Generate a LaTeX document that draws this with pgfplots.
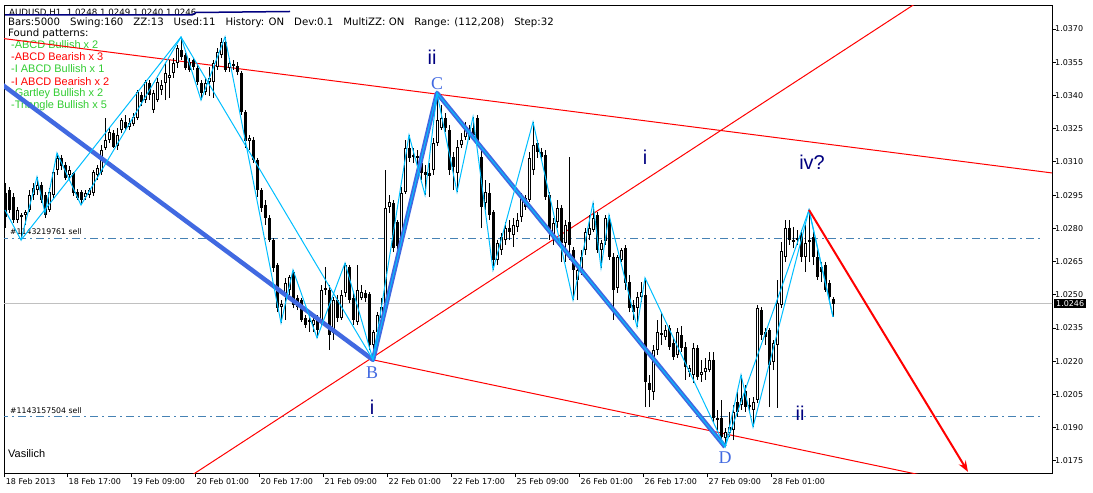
\documentclass[border=0pt]{standalone}
\usepackage{fontspec}
\setmainfont{DejaVu Sans}
\newfontfamily\arialf{Liberation Sans}
\newfontfamily\seriff{Liberation Serif}
\usepackage{pgfplots}
\pgfplotsset{compat=1.18}
\usepackage{pgfplotstable}
\usetikzlibrary{arrows.meta}

\definecolor{zzcyan}{RGB}{0,191,255}
\definecolor{royal}{RGB}{65,105,225}
\definecolor{wavenavy}{RGB}{0,0,128}
\definecolor{steel}{RGB}{70,130,180}
\definecolor{pgreen}{RGB}{50,205,50}
\definecolor{curgray}{RGB}{192,192,192}

% AUDUSD H1 bars: index, open, high, low, close
\pgfplotstableread{
i o h l c
0 1.02960 1.03005 1.02802 1.02851
1 1.02973 1.02987 1.02869 1.02883
2 1.02942 1.02960 1.02824 1.02838
3 1.02838 1.02896 1.02824 1.02883
4 1.02851 1.02869 1.02747 1.02860
5 1.02860 1.02883 1.02815 1.02874
6 1.02883 1.02973 1.02874 1.02951
7 1.02951 1.03005 1.02928 1.02982
8 1.02973 1.03032 1.02951 1.02996
9 1.02996 1.03009 1.02914 1.02928
10 1.02951 1.02964 1.02847 1.02860
11 1.02883 1.02982 1.02874 1.02964
12 1.02951 1.03063 1.02937 1.03054
13 1.03063 1.03140 1.03041 1.03118
14 1.03118 1.03131 1.03063 1.03081
15 1.03086 1.03100 1.03018 1.03027
16 1.03041 1.03081 1.03018 1.03063
17 1.03050 1.03054 1.02946 1.02960
18 1.02964 1.02978 1.02928 1.02937
19 1.02964 1.02973 1.02905 1.02928
20 1.02942 1.02973 1.02928 1.02960
21 1.02951 1.02982 1.02937 1.02973
22 1.02960 1.03063 1.02946 1.03054
23 1.03041 1.03086 1.03018 1.03072
24 1.03054 1.03176 1.03041 1.03154
25 1.03163 1.03298 1.03154 1.03199
26 1.03199 1.03253 1.03185 1.03235
27 1.03230 1.03244 1.03163 1.03167
28 1.03172 1.03253 1.03154 1.03221
29 1.03244 1.03298 1.03230 1.03289
30 1.03280 1.03312 1.03244 1.03253
31 1.03258 1.03298 1.03244 1.03276
32 1.03271 1.03321 1.03262 1.03303
33 1.03298 1.03425 1.03289 1.03416
34 1.03402 1.03416 1.03352 1.03370
35 1.03379 1.03470 1.03366 1.03461
36 1.03456 1.03470 1.03379 1.03402
37 1.03334 1.03425 1.03321 1.03411
38 1.03379 1.03479 1.03370 1.03461
39 1.03425 1.03470 1.03402 1.03447
40 1.03456 1.03547 1.03379 1.03501
41 1.03479 1.03560 1.03389 1.03492
42 1.03501 1.03569 1.03479 1.03547
43 1.03547 1.03628 1.03524 1.03614
44 1.03605 1.03664 1.03560 1.03574
45 1.03583 1.03592 1.03515 1.03524
46 1.03551 1.03569 1.03506 1.03515
47 1.03560 1.03569 1.03515 1.03528
48 1.03524 1.03537 1.03447 1.03461
49 1.03456 1.03470 1.03379 1.03411
50 1.03416 1.03479 1.03402 1.03456
51 1.03461 1.03528 1.03398 1.03479
52 1.03461 1.03560 1.03389 1.03547
53 1.03528 1.03614 1.03515 1.03596
54 1.03583 1.03659 1.03569 1.03641
55 1.03641 1.03664 1.03506 1.03515
56 1.03524 1.03569 1.03506 1.03547
57 1.03542 1.03560 1.03515 1.03533
58 1.03533 1.03551 1.03492 1.03506
59 1.03501 1.03510 1.03312 1.03325
60 1.03325 1.03334 1.03163 1.03194
61 1.03194 1.03221 1.03154 1.03208
62 1.03199 1.03212 1.03095 1.03109
63 1.03109 1.03118 1.02942 1.02973
64 1.02973 1.02982 1.02874 1.02892
65 1.02905 1.02928 1.02815 1.02847
66 1.02847 1.02860 1.02738 1.02747
67 1.02747 1.02756 1.02603 1.02621
68 1.02634 1.02643 1.02422 1.02440
69 1.02445 1.02476 1.02373 1.02458
70 1.02490 1.02576 1.02386 1.02553
71 1.02522 1.02589 1.02499 1.02580
72 1.02603 1.02612 1.02440 1.02454
73 1.02486 1.02499 1.02431 1.02445
74 1.02476 1.02486 1.02377 1.02386
75 1.02395 1.02409 1.02350 1.02364
76 1.02386 1.02431 1.02332 1.02377
77 1.02364 1.02409 1.02332 1.02386
78 1.02400 1.02409 1.02305 1.02341
79 1.02373 1.02544 1.02359 1.02522
80 1.02522 1.02625 1.02499 1.02531
81 1.02522 1.02544 1.02251 1.02318
82 1.02327 1.02490 1.02296 1.02476
83 1.02476 1.02499 1.02377 1.02395
84 1.02395 1.02522 1.02386 1.02499
85 1.02508 1.02643 1.02490 1.02634
86 1.02625 1.02634 1.02463 1.02476
87 1.02486 1.02508 1.02364 1.02386
88 1.02377 1.02634 1.02364 1.02522
89 1.02486 1.02544 1.02476 1.02513
90 1.02508 1.02522 1.02467 1.02486
91 1.02504 1.02513 1.02251 1.02273
92 1.02273 1.02341 1.02206 1.02332
93 1.02332 1.02422 1.02314 1.02409
94 1.02395 1.02486 1.02386 1.02445
95 1.02445 1.03063 1.02431 1.02892
96 1.02896 1.02951 1.02869 1.02919
97 1.02914 1.02928 1.02693 1.02711
98 1.02829 1.02838 1.02702 1.02720
99 1.02734 1.02987 1.02711 1.02960
100 1.02964 1.03199 1.02955 1.03163
101 1.03163 1.03221 1.03100 1.03118
102 1.03131 1.03163 1.03095 1.03122
103 1.03127 1.03154 1.03086 1.03118
104 1.03095 1.03118 1.03018 1.03050
105 1.03054 1.03086 1.02951 1.03041
106 1.03050 1.03095 1.02942 1.03036
107 1.03063 1.03208 1.03041 1.03185
108 1.03185 1.03411 1.03172 1.03289
109 1.03253 1.03357 1.03244 1.03298
110 1.03298 1.03321 1.03235 1.03253
111 1.03244 1.03267 1.03041 1.03063
112 1.03122 1.03145 1.02973 1.03077
113 1.03050 1.03199 1.02964 1.03167
114 1.03176 1.03230 1.03163 1.03199
115 1.03212 1.03280 1.03199 1.03244
116 1.03244 1.03267 1.03199 1.03212
117 1.03253 1.03303 1.03208 1.03221
118 1.03298 1.03312 1.03176 1.03190
119 1.03122 1.03154 1.02802 1.02896
120 1.02914 1.03018 1.02883 1.02964
121 1.02960 1.03005 1.02838 1.02860
122 1.02874 1.02883 1.02612 1.02657
123 1.02657 1.02747 1.02634 1.02734
124 1.02702 1.02779 1.02680 1.02761
125 1.02747 1.02829 1.02725 1.02802
126 1.02802 1.02838 1.02747 1.02784
127 1.02770 1.02847 1.02716 1.02815
128 1.02806 1.02869 1.02784 1.02838
129 1.02851 1.02960 1.02829 1.02942
130 1.02937 1.02951 1.02883 1.02896
131 1.02928 1.03145 1.02919 1.03118
132 1.03063 1.03280 1.03041 1.03176
133 1.03185 1.03199 1.03118 1.03145
134 1.03145 1.03163 1.03109 1.03122
135 1.03131 1.03154 1.02928 1.02942
136 1.02951 1.02964 1.02747 1.02779
137 1.02761 1.02847 1.02725 1.02824
138 1.02829 1.02928 1.02802 1.02892
139 1.02892 1.02905 1.02648 1.02734
140 1.02734 1.02838 1.02648 1.02815
141 1.02829 1.03122 1.02657 1.02725
142 1.02702 1.02716 1.02476 1.02612
143 1.02567 1.02634 1.02476 1.02612
144 1.02612 1.02702 1.02589 1.02671
145 1.02702 1.02802 1.02680 1.02784
146 1.02770 1.02860 1.02747 1.02802
147 1.02793 1.02914 1.02784 1.02847
148 1.02860 1.02874 1.02689 1.02702
149 1.02702 1.02747 1.02621 1.02734
150 1.02743 1.02860 1.02725 1.02847
151 1.02838 1.02860 1.02657 1.02671
152 1.02671 1.02689 1.02386 1.02522
153 1.02531 1.02680 1.02508 1.02671
154 1.02657 1.02711 1.02648 1.02702
155 1.02711 1.02725 1.02522 1.02553
156 1.02558 1.02589 1.02422 1.02440
157 1.02454 1.02476 1.02386 1.02422
158 1.02440 1.02513 1.02355 1.02490
159 1.02490 1.02558 1.02467 1.02513
160 1.02499 1.02576 1.01993 1.02106
161 1.02102 1.02138 1.01993 1.02070
162 1.02061 1.02273 1.02025 1.02251
163 1.02251 1.02386 1.02228 1.02332
164 1.02327 1.02422 1.02273 1.02318
165 1.02309 1.02364 1.02296 1.02341
166 1.02350 1.02364 1.02251 1.02264
167 1.02282 1.02305 1.02206 1.02219
168 1.02228 1.02350 1.02215 1.02332
169 1.02318 1.02359 1.02242 1.02260
170 1.02264 1.02287 1.02115 1.02174
171 1.02151 1.02183 1.02129 1.02169
172 1.02138 1.02282 1.02102 1.02260
173 1.02260 1.02273 1.02115 1.02129
174 1.02138 1.02206 1.02106 1.02151
175 1.02151 1.02215 1.02115 1.02169
176 1.02160 1.02242 1.02151 1.02206
177 1.02206 1.02242 1.01926 1.01944
178 1.01944 1.01980 1.01890 1.01935
179 1.01944 1.02025 1.01831 1.01858
180 1.01853 1.01899 1.01813 1.01881
181 1.01876 1.01971 1.01858 1.01903
182 1.01890 1.02002 1.01844 1.01971
183 1.02016 1.02070 1.01948 1.01971
184 1.02002 1.02138 1.01980 1.02034
185 1.02066 1.02093 1.01971 1.01993
186 1.02002 1.02034 1.01966 1.01993
187 1.01980 1.02039 1.01903 1.02016
188 1.02025 1.02454 1.02011 1.02440
189 1.02431 1.02445 1.02296 1.02318
190 1.02332 1.02350 1.02273 1.02309
191 1.02341 1.02350 1.01993 1.02183
192 1.02197 1.02296 1.02160 1.02282
193 1.02273 1.02567 1.01989 1.02463
194 1.02454 1.02738 1.02440 1.02698
195 1.02671 1.02838 1.02648 1.02802
196 1.02802 1.02838 1.02725 1.02747
197 1.02747 1.02806 1.02711 1.02738
198 1.02756 1.02793 1.02725 1.02747
199 1.02770 1.02793 1.02648 1.02671
200 1.02671 1.02815 1.02603 1.02734
201 1.02747 1.02883 1.02648 1.02738
202 1.02761 1.02784 1.02634 1.02671
203 1.02671 1.02702 1.02567 1.02580
204 1.02625 1.02648 1.02558 1.02603
205 1.02634 1.02648 1.02513 1.02522
206 1.02553 1.02567 1.02467 1.02490
207 1.02480 1.02490 1.02400 1.02460
}\bars

\begin{document}
\begin{tikzpicture}
\useasboundingbox (0,0) rectangle (1093bp,493bp);
\fill[white] (0,0) rectangle (1093bp,493bp);

% chart info texts (under the drawn objects)
\begin{scope}[every node/.style={anchor=west, inner sep=0pt}]
\node[font=\fontsize{8.7}{10}\selectfont] at (9bp,480bp) {AUDUSD,H1\ \ 1.0248 1.0249 1.0240 1.0246};
\node[font=\fontsize{10.2}{11}\selectfont] at (8bp,470bp) {Bars:5000\hspace{10bp}Swing:160\hspace{10bp}ZZ:13\hspace{10bp}Used:11\hspace{10bp}History: ON\hspace{10bp}Dev:0.1\hspace{10bp}MultiZZ: ON\hspace{10bp}Range: (112,208)\hspace{10bp}Step:32};
\node[font=\fontsize{10.2}{11}\selectfont] at (8bp,459bp) {Found patterns:};
\node[font=\arialf\fontsize{11}{12}\selectfont, text=pgreen] at (11bp,448bp) {-ABCD Bullish x 2};
\node[font=\arialf\fontsize{11}{12}\selectfont, text=red] at (11bp,436bp) {-ABCD Bearish x 3};
\node[font=\arialf\fontsize{11}{12}\selectfont, text=pgreen] at (11bp,424bp) {-I ABCD Bullish x 1};
\node[font=\arialf\fontsize{11}{12}\selectfont, text=red] at (11bp,411.5bp) {-I ABCD Bearish x 2};
\node[font=\arialf\fontsize{11}{12}\selectfont, text=pgreen] at (11bp,399.5bp) {-Gartley Bullish x 2};
\node[font=\arialf\fontsize{11}{12}\selectfont, text=pgreen] at (11bp,387bp) {-Triangle Bullish x 5};
\node[font=\fontsize{7.8}{9}\selectfont] at (10bp,261bp) {\#1143219761 sell};
\node[font=\fontsize{7.8}{9}\selectfont] at (10bp,82bp) {\#1143157504 sell};
\node[font=\arialf\fontsize{11}{13}\selectfont] at (8bp,39bp) {Vasilich};
\end{scope}
\draw[wavenavy, line width=1.5bp] (5bp,478bp) -- (192bp,478bp) -- (196bp,480.5bp) -- (243bp,481bp) -- (290bp,481.5bp);

\begin{axis}[
  at={(4bp,20bp)}, anchor=south west,
  scale only axis, width=1048bp, height=467bp,
  xmin=-0.25, xmax=261.75,
  ymin=1.01695, ymax=1.03804,
  axis line style={black, line width=1bp},
  tick style={black, line width=0.8bp},
  tick align=outside, major tick length=4bp,
  xtick pos=left, ytick pos=right, yticklabel pos=right,
  xtick={-0.2,15.5,31.5,47.5,63.5,79.5,95.5,111.5,127.5,143.5,159.5,175.5,191.5},
  xticklabels={18 Feb 2013,18 Feb 17:00,19 Feb 09:00,20 Feb 01:00,20 Feb 17:00,21 Feb 09:00,22 Feb 01:00,22 Feb 17:00,25 Feb 09:00,26 Feb 01:00,26 Feb 17:00,27 Feb 09:00,28 Feb 01:00},
  ytick={1.0175,1.0190,1.0205,1.0220,1.0235,1.0250,1.0265,1.0280,1.0295,1.0310,1.0325,1.0340,1.0355,1.0370},
  scaled y ticks=false,
  ticklabel style={font=\fontsize{8}{9.6}\selectfont},
  yticklabel style={anchor=west, inner sep=0.5bp, xshift=-1.5bp,
    /pgf/number format/.cd, fixed, fixed zerofill, precision=4, assume math mode=true},
  xticklabel style={anchor=north west, inner sep=1.5bp},
]

% current price and order lines
\addplot[curgray, line width=1bp] coordinates {(-2,1.0246) (265,1.0246)};
\addplot[steel, line width=1bp, dash pattern=on 8bp off 4bp on 2bp off 4bp] coordinates {(-1.25,1.02752) (258.75,1.02752)};
\addplot[steel, line width=1bp, dash pattern=on 8bp off 4bp on 2bp off 4bp] coordinates {(-1.25,1.01948) (258.75,1.01948)};

% red channel lines
\addplot[red, line width=1bp] coordinates {(-1.25,1.03659) (261.75,1.03050)};
\addplot[red, line width=1bp] coordinates {(92,1.02206) (235,1.01663)};
\addplot[red, line width=1bp] coordinates {(45,1.01665) (230,1.03843)};

% candles: wicks, bodies, hollow bullish bodies
\addplot[black, line width=1bp, mark=none, quiver={u=0, v=\thisrow{h}-\thisrow{l}}] table[x=i, y=l] {\bars};
\addplot[black, line width=3bp, mark=none, quiver={u=0, v=\thisrow{c}-\thisrow{o}}] table[x=i, y=o] {\bars};
\addplot[white, line width=1bp, mark=none, quiver={u=0, v={max(\thisrow{c}-\thisrow{o}-0.00009,0)}}] table[x=i, y expr=\thisrow{o}+0.000045] {\bars};

% ABCD pattern (thick blue)
\addplot[royal, line width=4.5bp, line join=round] coordinates {(-1.25,1.03456) (92,1.02206) (108,1.03411) (180,1.01813)};

% zigzags
\addplot[zzcyan, line width=1bp] coordinates {(0,1.02883) (4,1.02747) (8,1.03032) (10,1.02869) (13,1.03140) (19,1.02905) (44,1.03664) (49,1.03379) (55,1.03664) (69,1.02373) (72,1.02612) (78,1.02305) (85,1.02643) (92,1.02206) (101,1.03221) (105,1.02951) (108,1.03411) (113,1.02964) (117,1.03303) (122,1.02612) (132,1.03280) (142,1.02476) (147,1.02914) (149,1.02621) (151,1.02860) (158,1.02355) (160,1.02576) (180,1.01813) (184,1.02138) (187,1.01903) (201,1.02883) (207,1.02400)};
\addplot[zzcyan, line width=1bp] coordinates {(4,1.02747) (44,1.03664) (92,1.02206) (108,1.03411) (180,1.01813) (201,1.02883) (207,1.02400)};

% projection arrow
\addplot[red, line width=2bp, -{Stealth[length=11bp, width=8bp]}] coordinates {(201,1.02883) (240.75,1.01700)};

% labels
\node[text=wavenavy, font=\arialf\fontsize{20}{22}\selectfont] at (axis cs:106.75,1.03574) {ii};
\node[text=royal, font=\seriff\fontsize{18}{20}\selectfont] at (axis cs:108,1.03452) {C};
\node[text=royal, font=\seriff\fontsize{18}{20}\selectfont] at (axis cs:91.75,1.02147) {B};
\node[text=wavenavy, font=\arialf\fontsize{20}{22}\selectfont] at (axis cs:91.75,1.01993) {i};
\node[text=royal, font=\seriff\fontsize{18}{20}\selectfont] at (axis cs:180,1.01763) {D};
\node[text=wavenavy, font=\arialf\fontsize{20}{22}\selectfont] at (axis cs:160,1.03122) {i};
\node[text=wavenavy, font=\arialf\fontsize{20}{22}\selectfont] at (axis cs:201.75,1.03100) {iv?};
\node[text=wavenavy, font=\arialf\fontsize{20}{22}\selectfont] at (axis cs:198.75,1.01966) {ii};

\coordinate (cp) at (axis cs:261.75,1.0246);
\end{axis}
\node[fill=black, text=white, anchor=west, inner xsep=2bp, inner ysep=1.5bp, font=\fontsize{8}{9.6}\selectfont] at ([xshift=2bp]cp) {1.0246};
\end{tikzpicture}
\end{document}
